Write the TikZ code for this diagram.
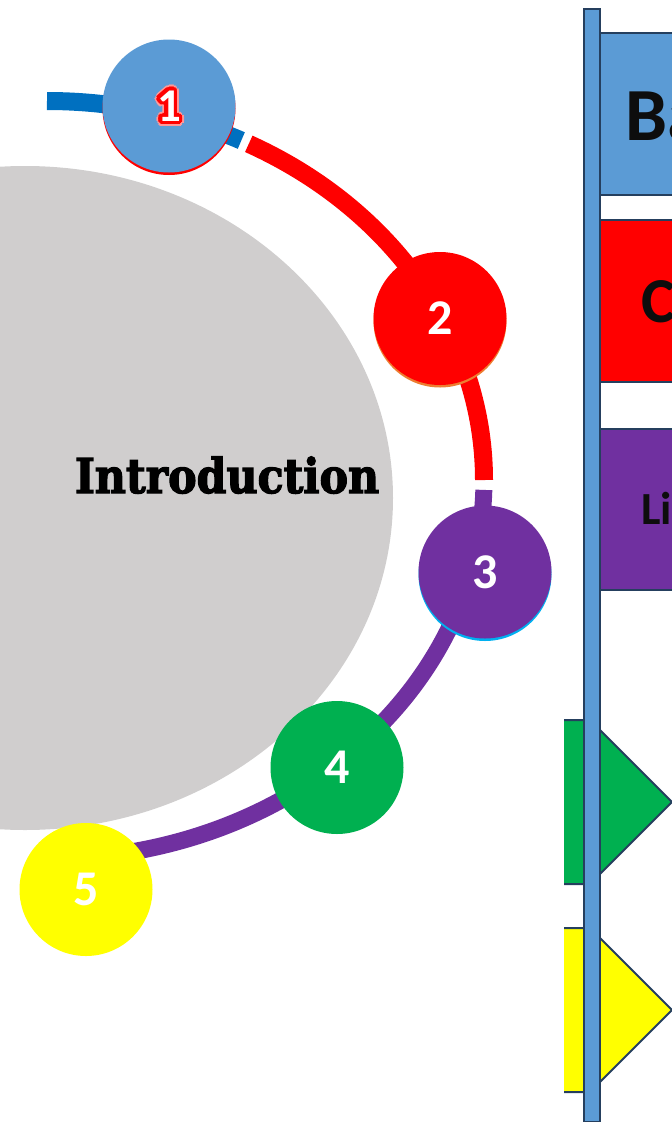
\documentclass[tikz,border=0pt]{standalone}
\usepackage{fontspec}
\setmainfont{Carlito}
\newfontfamily\introfont{DejaVu Serif Bold}[FakeStretch=0.89, FakeBold=2.5]
\definecolor{introgrey}{HTML}{D0CECE}
\definecolor{trackblue}{HTML}{0070C0}
\definecolor{circblue}{HTML}{5B9BD5}
\definecolor{myred}{HTML}{FF0000}
\definecolor{mypurple}{HTML}{7030A0}
\definecolor{mygreen}{HTML}{00B050}
\definecolor{myyellow}{HTML}{FFFF00}
\definecolor{myorange}{HTML}{ED7D31}
\definecolor{mycyan}{HTML}{00B0F0}
\definecolor{navy}{HTML}{253F5E}
\tikzset{
  track/.style={line width=18pt},
  numcirc/.style={circle, minimum size=133pt, inner sep=0pt, text=white,
    font=\bfseries\fontsize{50}{50}\selectfont},
  onefont/.style={font=\bfseries\fontsize{47}{47}\selectfont, inner sep=0pt},
  panelline/.style={draw=navy, line width=2pt},
  boxtext/.style={anchor=base west, inner sep=0pt, text=black!95}
}
\begin{document}
\begin{tikzpicture}[x=1pt,y=1pt]
\useasboundingbox (0,0) rectangle (672,-1122);
\clip (0,0) rectangle (672,-1122);

% central grey ellipse with title
\fill[introgrey] (25,-498) ellipse [x radius=368, y radius=332];
\node[font=\introfont\fontsize{48}{48}\selectfont, anchor=base, inner sep=0pt] (intro) at (227,-493) {Introduction};

% elliptical track
\coordinate (O) at (47,-480);
\coordinate (b0) at ([shift={(90:437 and 379)}]O);
\coordinate (r0) at ([shift={(62.5:437 and 379)}]O);
\coordinate (p0) at ([shift={(-1.5:437 and 379)}]O);
\draw[track, trackblue] (b0) arc[start angle=90, end angle=63.6, x radius=437, y radius=379];
\draw[track, myred] (r0) arc[start angle=62.5, end angle=0, x radius=437, y radius=379];
\draw[track, mypurple, line width=17pt] (p0) arc[start angle=-1.5, end angle=-86, x radius=437, y radius=379];

% rims (thin coloured lower edges)
\fill[myred] (169,-108.5) circle[radius=66.5];
\fill[myorange] (440,-321) circle[radius=66.5];
\fill[mycyan] (485,-574.5) circle[radius=66.5];

% numbered circles
\node[numcirc, fill=circblue] (n1) at (169,-106) {};
\foreach \a in {0,22.5,...,359} {
  \node[onefont, text=myred!40] at ([shift={(\a:5.5)}]n1) {1};
}
\foreach \a in {0,22.5,...,359} {
  \node[onefont, text=myred] at ([shift={(\a:3.5)}]n1) {1};
}
\node[onefont, text=white] (n1t) at (n1) {1};
\node[numcirc, fill=myred] (n2) at (440,-318.5) {2};
\node[numcirc, fill=mypurple] (n3) at (485,-572) {3};
\node[numcirc, fill=mygreen] (n4) at (337,-767.5) {4};
\node[numcirc, fill=myyellow] (n5) at (86,-889.5) {5};

% right panel: boxes
\draw[panelline, fill=circblue] (599,-32.5) rectangle (720,-195);
\node[boxtext, font=\bfseries\fontsize{75}{75}\selectfont] (tb) at (625,-140) {Ba};
\draw[panelline, fill=myred] (599,-220) rectangle (720,-382);
\node[boxtext, font=\bfseries\fontsize{64}{64}\selectfont] (tc) at (641,-322) {C};
\draw[panelline, fill=mypurple] (599,-429) rectangle (720,-590);
\node[boxtext, font=\bfseries\fontsize{46}{46}\selectfont] (tl) at (641,-524) {Li};

% pentagon markers
\fill[mygreen] (564,-720) -- (590,-720) -- (672,-802) -- (590,-884) -- (564,-884) -- cycle;
\draw[panelline, line join=miter] (564,-720) -- (590,-720) -- (672,-802) -- (590,-884) -- (564,-884);
\fill[myyellow] (564,-928) -- (590,-928) -- (672,-1010) -- (590,-1092) -- (564,-1092) -- cycle;
\draw[panelline, line join=miter] (564,-928) -- (590,-928) -- (672,-1010) -- (590,-1092) -- (564,-1092);

% vertical bar
\node[panelline, fill=circblue, minimum width=16pt, minimum height=1113pt, inner sep=0pt, anchor=north west] (bar) at (583,-7.5) {};
\end{tikzpicture}
\end{document}
